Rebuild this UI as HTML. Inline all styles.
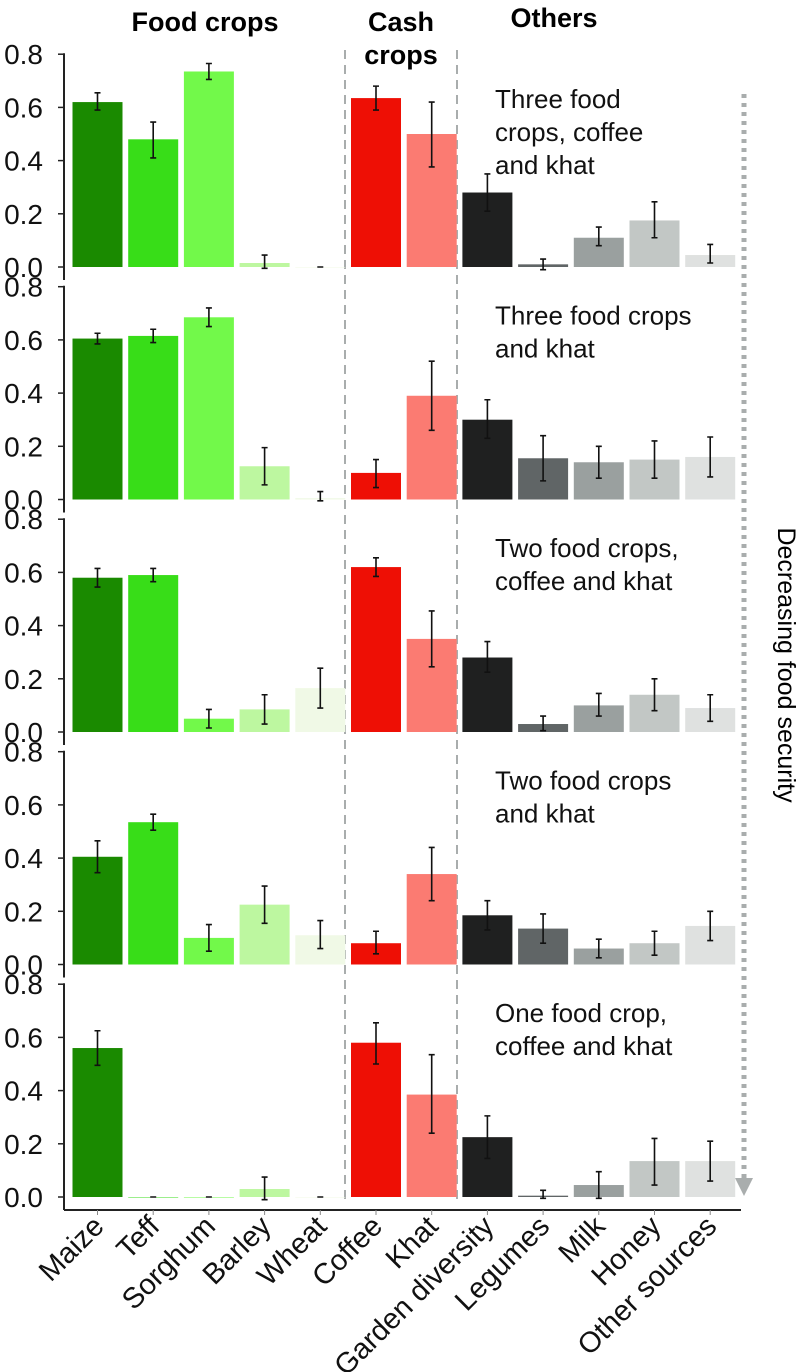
<!DOCTYPE html>
<html><head><meta charset="utf-8">
<style>
html,body{margin:0;padding:0;background:#fff;}
svg{display:block;font-family:"Liberation Sans",sans-serif;}
</style></head>
<body>
<svg id="chart" width="799" height="1372" viewBox="0 0 799 1372" xmlns="http://www.w3.org/2000/svg">
  <text x="205" y="31" font-size="27" font-weight="bold" text-anchor="middle">Food crops</text>
  <text x="401" y="31" font-size="27" font-weight="bold" text-anchor="middle">Cash</text>
  <text x="401" y="64" font-size="27" font-weight="bold" text-anchor="middle">crops</text>
  <text x="554" y="27" font-size="27" font-weight="bold" text-anchor="middle">Others</text>
  <line x1="345" y1="50" x2="345" y2="1205" stroke="#a9adad" stroke-width="2" stroke-dasharray="9,6"/>
  <line x1="457" y1="50" x2="457" y2="1205" stroke="#a9adad" stroke-width="2" stroke-dasharray="9,6"/>
  <line x1="744" y1="94" x2="744" y2="1178" stroke="#a9adad" stroke-width="5" stroke-dasharray="4,5"/>
  <polygon points="735,1178 753,1178 744,1196" fill="#a9adad"/>
  <text transform="translate(778,665) rotate(90)" font-size="25" text-anchor="middle">Decreasing food security</text>
  <g id="plot"></g>
</svg>
<script>
const categories = ["Maize","Teff","Sorghum","Barley","Wheat","Coffee","Khat","Garden diversity","Legumes","Milk","Honey","Other sources"];
const panelTitles = [
  ["Three food","crops, coffee","and khat"],
  ["Three food crops","and khat"],
  ["Two food crops,","coffee and khat"],
  ["Two food crops","and khat"],
  ["One food crop,","coffee and khat"]
];
const yTicks = [0.0,0.2,0.4,0.6,0.8];
const yTickLabels = ["0.0","0.2","0.4","0.6","0.8"];
const values1 = [0.62,0.48,0.735,0.015,0,0.635,0.5,0.28,0.01,0.11,0.175,0.045];
const lower1  = [0.59,0.41,0.705,-0.005,0,0.59,0.376,0.21,-0.01,0.08,0.11,0.015];
const upper1  = [0.655,0.545,0.765,0.045,0,0.68,0.62,0.35,0.03,0.15,0.245,0.085];
const values2 = [0.605,0.615,0.685,0.125,0.005,0.1,0.39,0.3,0.155,0.14,0.15,0.16];
const lower2  = [0.585,0.59,0.65,0.055,-0.005,0.045,0.26,0.23,0.07,0.08,0.08,0.085];
const upper2  = [0.625,0.64,0.72,0.195,0.03,0.15,0.52,0.375,0.24,0.2,0.22,0.235];
const values3 = [0.58,0.59,0.05,0.085,0.165,0.62,0.35,0.28,0.03,0.1,0.14,0.09];
const lower3  = [0.545,0.565,0.015,0.03,0.09,0.585,0.245,0.225,0.005,0.06,0.08,0.04];
const upper3  = [0.615,0.615,0.085,0.14,0.24,0.655,0.455,0.34,0.06,0.145,0.2,0.14];
const values4 = [0.405,0.535,0.1,0.225,0.11,0.08,0.34,0.185,0.135,0.06,0.08,0.145];
const lower4  = [0.345,0.505,0.05,0.155,0.06,0.04,0.24,0.13,0.08,0.025,0.035,0.09];
const upper4  = [0.465,0.565,0.15,0.295,0.165,0.125,0.44,0.24,0.19,0.095,0.125,0.2];
const values5 = [0.56,0,0,0.03,0,0.58,0.385,0.225,0.005,0.045,0.135,0.135];
const lower5  = [0.495,0,0,-0.01,0,0.5,0.24,0.145,-0.005,-0.005,0.045,0.06];
const upper5  = [0.625,0,0,0.075,0,0.655,0.535,0.305,0.025,0.095,0.22,0.21];

const panels = [[values1,lower1,upper1],[values2,lower2,upper2],[values3,lower3,upper3],[values4,lower4,upper4],[values5,lower5,upper5]];
const colors = ["#1a8a00","#38dd18","#72f94a","#bdf7a0","#f0f9e6","#ee0f05","#fb7b72","#1f2020","#606566","#9aa09f","#c2c7c5","#dfe1e0"];
const NS="http://www.w3.org/2000/svg";
const g=document.getElementById('plot');
const PX_PER_UNIT=266, BAR_W=50, XAXIS_Y=1210;
function zeroY(p){return 267+p*232.5;}
function yScale(p,v){return zeroY(p)-v*PX_PER_UNIT;}
function xCenter(i){return 97.5+i*55.7;}
function mk(tag,attrs){const e=document.createElementNS(NS,tag);for(const k in attrs)e.setAttribute(k,attrs[k]);g.appendChild(e);return e;}

panels.forEach((pd,p)=>{
  const [vals,lo,hi]=pd;
  const bottom = p===4 ? XAXIS_Y : zeroY(p)+13;
  const ax=mk('line',{x1:64,x2:64,y1:yScale(p,0.8)-1,y2:bottom,stroke:'#222','stroke-width':2});
  
  
  yTicks.forEach((t,k)=>{
    const y=yScale(p,t);
    const tk=mk('line',{x1:58,x2:64,y1:y,y2:y,stroke:'#222','stroke-width':1.5});
    
    
    const tl=mk('text',{x:43,y:y+10,'font-size':28,'text-anchor':'end',fill:'#111'});
    tl.textContent=yTickLabels[k];
    
    
  });
  vals.forEach((v,i)=>{
    const cx=xCenter(i);
    const top=yScale(p,v), z=zeroY(p);
    const r=mk('rect',{x:cx-BAR_W/2,y:Math.min(top,z),width:BAR_W,height:Math.max(Math.abs(z-top),0.5),fill:colors[i]});
    
    
    const y1=yScale(p,hi[i]), y2=yScale(p,lo[i]);
    const e=mk('path',{d:`M${cx},${y1}V${y2}M${cx-3},${y1}H${cx+3}M${cx-3},${y2}H${cx+3}`,stroke:'#111','stroke-width':1.6,fill:'none'});
    
    
  });
  const lines=panelTitles[p];
  const startY = p===0 ? 108 : yScale(p,0.8)+38;
  lines.forEach((ln,k)=>{
    const t=mk('text',{x:495,y:startY+k*33,'font-size':26,fill:'#111'});
    t.textContent=ln;
    
    
  });
});
const xa=mk('line',{x1:64,x2:741,y1:XAXIS_Y,y2:XAXIS_Y,stroke:'#222','stroke-width':2});


categories.forEach((c,i)=>{
  const cx=xCenter(i);
  const tk=mk('line',{x1:cx,x2:cx,y1:XAXIS_Y,y2:XAXIS_Y+5,stroke:'#888','stroke-width':1});
  
  
  const t=mk('text',{transform:`translate(${cx+8},${XAXIS_Y+18}) rotate(-45)`,'font-size':29,'text-anchor':'end',fill:'#111'});
  t.textContent=c;
  
  
});
</script>
</body></html>
